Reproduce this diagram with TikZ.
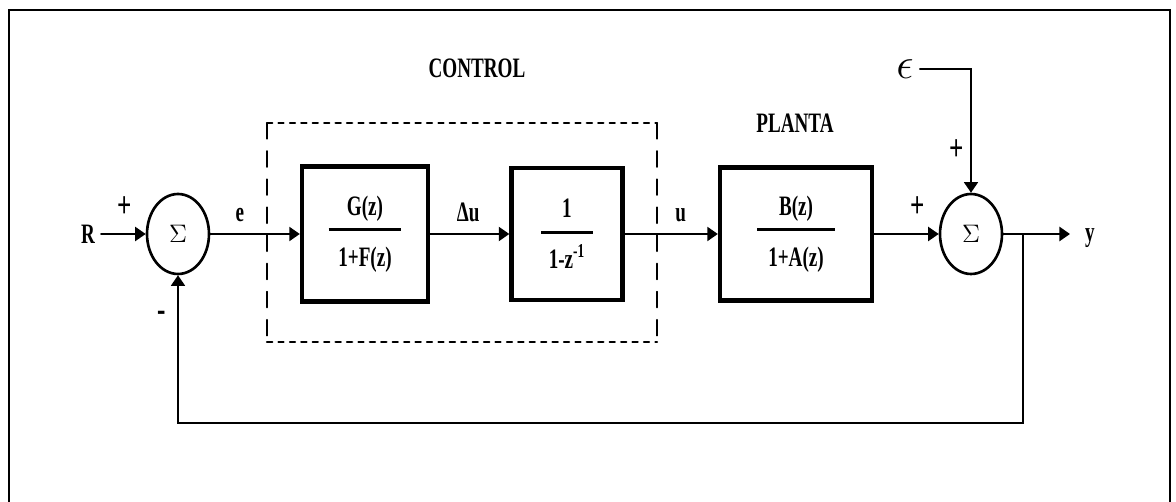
\documentclass[tikz,border=0pt]{standalone}
\usepackage{fontspec}
\newfontfamily\dosfont[FakeStretch=0.68]{Liberation Serif}
\usetikzlibrary{shapes.geometric,arrows.meta}
\newcommand{\tfr}[3]{#2\\[-5pt]\rule{#1}{1.6pt}\\[6pt]#3}
\begin{document}
\begin{tikzpicture}[x=0.02cm,y=-0.02cm,line cap=round,font=\dosfont\bfseries\fontsize{16}{14}\selectfont,>={Triangle[length=6pt,width=8pt]}]
\tikzset{blk/.style={draw,line width=2.5pt,inner sep=0pt,align=center},
  sum/.style={draw,ellipse,line width=1.5pt,minimum width=1.24cm,minimum height=1.6cm,inner sep=0pt},
  sig/.style={font=\dosfont\bfseries\fontsize{21}{21}\selectfont},
  flow/.style={->,line width=1.2pt},
  back/.style={->,line width=.9pt}}
\useasboundingbox (0,0) rectangle (1176,502);
% frame, open at the bottom
\draw[line width=1.3pt] (9,502)--(9,10)--(1170,10)--(1170,502);
% control box
\draw[line width=1.2pt,dash pattern=on 3pt off 3.5pt] (267,123)--(657,123) (267,342)--(657,342);
\draw[line width=1pt,dash pattern=on 9pt off 7pt] (267,123)--(267,342) (657,123)--(657,342);
\node (ctl) at (477,68) {CONTROL};
\node (pla) at (795,123) {PLANTA};
% blocks
\node[blk,minimum width=2.52cm,minimum height=2.7cm] (G) at (365,234) {\tfr{1.46cm}{G(z)}{1+F(z)}};
\node[blk,minimum width=2.22cm,minimum height=2.64cm] (I) at (567,234) {\tfr{1.04cm}{1}{1-z\textsuperscript{-1}}};
\node[blk,minimum width=3.04cm,minimum height=2.66cm] (P) at (796,234) {\tfr{1.56cm}{B(z)}{1+A(z)}};
% summing points
\node[sum] (S1) at (178,234) {\Large$\Sigma$};
\node[sum] (S2) at (971,234) {\Large$\Sigma$};
% signals
\node (R) at (88,234) {R};
\node (eps) at (905,69) {\fontsize{26}{26}\selectfont$\epsilon$};
\node (y) at (1090,238) {y};
\coordinate (Yend) at (1070,234);
\coordinate (Br) at (1023,234);
\coordinate (Fb) at (1023,423);
\draw[flow] (R.east)--(S1.west);
\draw[flow] (S1.east)--node[above=3pt,pos=.33]{e}(G.west);
\draw[flow] (G.east)--node[above=3pt,pos=.48]{Δu}(I.west);
\draw[flow] (I.east)--node[above=3pt,pos=.6]{u}(P.west);
\draw[flow] (P.east)--(S2.west);
\draw[flow] (S2.east)--(Yend);
\draw[back] (eps.east)-|(S2.north);
\draw[back] (Br)--(Fb)-|(S1.south);
% signs
\node[sig] at (125,207) {+};
\node[sig] at (162,316) {-};
\node[sig] at (918,207) {+};
\node[sig] at (957,150) {+};
\end{tikzpicture}
\end{document}
